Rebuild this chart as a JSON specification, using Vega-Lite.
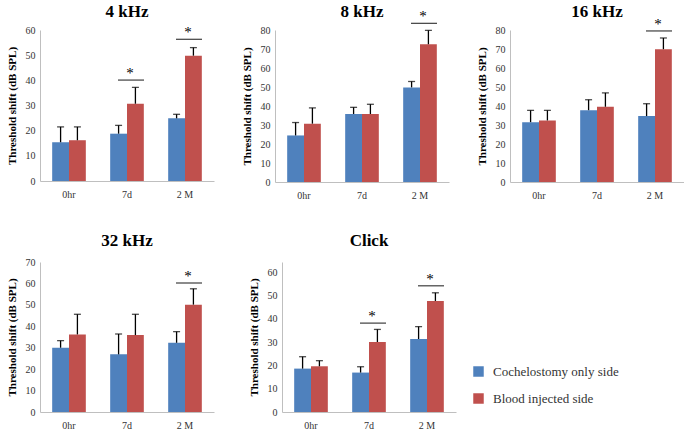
{
  "$schema": "https://vega.github.io/schema/vega-lite/v6.json",
  "padding": {"left": 5, "top": 2, "right": 0, "bottom": 0},
  "background": "white",
  "datasets": {
    "bars": [
      {"p": "4 kHz", "t": "0hr", "s": "Cochelostomy only side", "v": 15.4, "e": 21.5},
      {"p": "4 kHz", "t": "0hr", "s": "Blood injected side", "v": 16.2, "e": 21.5},
      {"p": "4 kHz", "t": "7d", "s": "Cochelostomy only side", "v": 18.8, "e": 22.1},
      {"p": "4 kHz", "t": "7d", "s": "Blood injected side", "v": 30.7, "e": 37.2},
      {"p": "4 kHz", "t": "2 M", "s": "Cochelostomy only side", "v": 24.9, "e": 26.5},
      {"p": "4 kHz", "t": "2 M", "s": "Blood injected side", "v": 49.8, "e": 53.0},
      {"p": "8 kHz", "t": "0hr", "s": "Cochelostomy only side", "v": 24.5, "e": 31.3},
      {"p": "8 kHz", "t": "0hr", "s": "Blood injected side", "v": 30.7, "e": 39.0},
      {"p": "8 kHz", "t": "7d", "s": "Cochelostomy only side", "v": 35.8, "e": 39.3},
      {"p": "8 kHz", "t": "7d", "s": "Blood injected side", "v": 35.8, "e": 40.9},
      {"p": "8 kHz", "t": "2 M", "s": "Cochelostomy only side", "v": 49.8, "e": 52.9},
      {"p": "8 kHz", "t": "2 M", "s": "Blood injected side", "v": 72.5, "e": 79.8},
      {"p": "16 kHz", "t": "0hr", "s": "Cochelostomy only side", "v": 31.5, "e": 37.7},
      {"p": "16 kHz", "t": "0hr", "s": "Blood injected side", "v": 32.4, "e": 37.7},
      {"p": "16 kHz", "t": "7d", "s": "Cochelostomy only side", "v": 37.8, "e": 43.3},
      {"p": "16 kHz", "t": "7d", "s": "Blood injected side", "v": 39.6, "e": 46.9},
      {"p": "16 kHz", "t": "2 M", "s": "Cochelostomy only side", "v": 34.7, "e": 41.2},
      {"p": "16 kHz", "t": "2 M", "s": "Blood injected side", "v": 69.9, "e": 75.8},
      {"p": "32 kHz", "t": "0hr", "s": "Cochelostomy only side", "v": 30.0, "e": 33.3},
      {"p": "32 kHz", "t": "0hr", "s": "Blood injected side", "v": 36.2, "e": 45.6},
      {"p": "32 kHz", "t": "7d", "s": "Cochelostomy only side", "v": 26.9, "e": 36.4},
      {"p": "32 kHz", "t": "7d", "s": "Blood injected side", "v": 35.9, "e": 45.6},
      {"p": "32 kHz", "t": "2 M", "s": "Cochelostomy only side", "v": 32.3, "e": 37.5},
      {"p": "32 kHz", "t": "2 M", "s": "Blood injected side", "v": 50.1, "e": 57.5},
      {"p": "Click", "t": "0hr", "s": "Cochelostomy only side", "v": 18.6, "e": 23.7},
      {"p": "Click", "t": "0hr", "s": "Blood injected side", "v": 19.6, "e": 22.0},
      {"p": "Click", "t": "7d", "s": "Cochelostomy only side", "v": 16.9, "e": 19.4},
      {"p": "Click", "t": "7d", "s": "Blood injected side", "v": 30.0, "e": 35.4},
      {"p": "Click", "t": "2 M", "s": "Cochelostomy only side", "v": 31.3, "e": 36.6},
      {"p": "Click", "t": "2 M", "s": "Blood injected side", "v": 47.6, "e": 51.1}
    ],
    "sig": [
      {"p": "4 kHz", "t": "7d", "y": 40.1},
      {"p": "4 kHz", "t": "2 M", "y": 56.3},
      {"p": "8 kHz", "t": "2 M", "y": 83.5},
      {"p": "16 kHz", "t": "2 M", "y": 79.5},
      {"p": "32 kHz", "t": "2 M", "y": 60.2},
      {"p": "Click", "t": "7d", "y": 38.1},
      {"p": "Click", "t": "2 M", "y": 54.1}
    ]
  },
  "config": {
    "view": {"stroke": null},
    "font": "Liberation Serif, Times New Roman, serif",
    "title": {"font": "Liberation Serif, Times New Roman, serif", "fontSize": 17, "fontWeight": "bold", "color": "black", "frame": "group", "anchor": "middle"},
    "axis": {"labelFont": "Liberation Serif, Times New Roman, serif", "labelFontSize": 10, "labelColor": "#333333", "titleFont": "Liberation Serif, Times New Roman, serif", "titleFontSize": 11, "titleFontWeight": "bold", "titleColor": "black", "domainColor": "#bfbfbf", "ticks": false, "grid": false, "labelPadding": 5, "labelOverlap": false},
    "axisX": {"labelAngle": 0, "labelPadding": 8},
    "axisY": {"titlePadding": 8},
    "text": {"font": "Liberation Serif, Times New Roman, serif", "fill": "black", "color": "black"},
    "legend": {"orient": "none", "legendX": 432, "legendY": 335, "title": null, "labelFont": "Liberation Serif, Times New Roman, serif", "labelFontSize": 13, "labelColor": "#333333", "symbolType": "square", "symbolSize": 110, "symbolStrokeWidth": 0, "rowPadding": 13, "labelOffset": 8},
    "bar": {"stroke": null}
  },
  "resolve": {"scale": {"y": "independent"}},
  "spacing": 32,
  "vconcat": [
    {
      "spacing": 27,
      "hconcat": [
        {
          "title": {"text": "4 kHz", "offset": 4}, "width": 174, "height": 151,
          "encoding": {"x": {"field": "t", "type": "nominal", "sort": ["0hr", "7d", "2 M"], "scale": {"paddingInner": 0.42, "paddingOuter": 0.21}, "axis": {"title": null}}},
          "layer": [
            {"data": {"name": "bars"}, "transform": [{"filter": "datum.p === '4 kHz'"}], "mark": {"type": "bar"},
             "encoding": {"xOffset": {"field": "s", "type": "nominal", "sort": ["Cochelostomy only side", "Blood injected side"]},
                          "y": {"field": "v", "type": "quantitative", "scale": {"domain": [0, 60]}, "axis": {"values": [0, 10, 20, 30, 40, 50, 60], "labelOverlap": false, "title": "Threshold shift (dB SPL)"}},
                          "color": {"field": "s", "type": "nominal", "sort": ["Cochelostomy only side", "Blood injected side"], "scale": {"range": ["#4F81BD", "#C0504D"]}}}},
            {"data": {"name": "bars"}, "transform": [{"filter": "datum.p === '4 kHz'"}], "mark": {"type": "rule", "color": "black", "strokeWidth": 1.3},
             "encoding": {"xOffset": {"field": "s", "type": "nominal", "sort": ["Cochelostomy only side", "Blood injected side"]}, "y": {"field": "v", "type": "quantitative", "axis": {"values": [0, 10, 20, 30, 40, 50, 60], "labelOverlap": false, "title": "Threshold shift (dB SPL)"}}, "y2": {"field": "e"}}},
            {"data": {"name": "bars"}, "transform": [{"filter": "datum.p === '4 kHz'"}], "mark": {"type": "tick", "color": "black", "size": 7, "thickness": 1.3, "xOffset": 2},
             "encoding": {"xOffset": {"field": "s", "type": "nominal", "sort": ["Cochelostomy only side", "Blood injected side"]}, "y": {"field": "e", "type": "quantitative", "axis": {"values": [0, 10, 20, 30, 40, 50, 60], "labelOverlap": false, "title": "Threshold shift (dB SPL)"}}}},
            {"data": {"name": "sig"}, "transform": [{"filter": "datum.p === '4 kHz'"}], "mark": {"type": "tick", "color": "black", "size": 26, "thickness": 1.3, "xOffset": 4},
             "encoding": {"y": {"field": "y", "type": "quantitative", "axis": {"values": [0, 10, 20, 30, 40, 50, 60], "labelOverlap": false, "title": "Threshold shift (dB SPL)"}}}},
            {"data": {"name": "sig"}, "transform": [{"filter": "datum.p === '4 kHz'"}], "mark": {"type": "text", "text": "*", "fontSize": 15, "dy": 1, "dx": 3, "baseline": "bottom", "fill": "black"},
             "encoding": {"y": {"field": "y", "type": "quantitative", "axis": {"values": [0, 10, 20, 30, 40, 50, 60], "labelOverlap": false, "title": "Threshold shift (dB SPL)"}}}}
          ]
        },
        {
          "title": {"text": "8 kHz", "offset": -12}, "width": 174, "height": 152,
          "encoding": {"x": {"field": "t", "type": "nominal", "sort": ["0hr", "7d", "2 M"], "scale": {"paddingInner": 0.42, "paddingOuter": 0.21}, "axis": {"title": null}}},
          "layer": [
            {"data": {"name": "bars"}, "transform": [{"filter": "datum.p === '8 kHz'"}], "mark": {"type": "bar"},
             "encoding": {"xOffset": {"field": "s", "type": "nominal", "sort": ["Cochelostomy only side", "Blood injected side"]},
                          "y": {"field": "v", "type": "quantitative", "scale": {"domain": [0, 80]}, "axis": {"values": [0, 10, 20, 30, 40, 50, 60, 70, 80], "labelOverlap": false, "title": "Threshold shift (dB SPL)"}},
                          "color": {"field": "s", "type": "nominal", "sort": ["Cochelostomy only side", "Blood injected side"], "scale": {"range": ["#4F81BD", "#C0504D"]}}}},
            {"data": {"name": "bars"}, "transform": [{"filter": "datum.p === '8 kHz'"}], "mark": {"type": "rule", "color": "black", "strokeWidth": 1.3},
             "encoding": {"xOffset": {"field": "s", "type": "nominal", "sort": ["Cochelostomy only side", "Blood injected side"]}, "y": {"field": "v", "type": "quantitative", "axis": {"values": [0, 10, 20, 30, 40, 50, 60, 70, 80], "labelOverlap": false, "title": "Threshold shift (dB SPL)"}}, "y2": {"field": "e"}}},
            {"data": {"name": "bars"}, "transform": [{"filter": "datum.p === '8 kHz'"}], "mark": {"type": "tick", "color": "black", "size": 7, "thickness": 1.3, "xOffset": 2},
             "encoding": {"xOffset": {"field": "s", "type": "nominal", "sort": ["Cochelostomy only side", "Blood injected side"]}, "y": {"field": "e", "type": "quantitative", "axis": {"values": [0, 10, 20, 30, 40, 50, 60, 70, 80], "labelOverlap": false, "title": "Threshold shift (dB SPL)"}}}},
            {"data": {"name": "sig"}, "transform": [{"filter": "datum.p === '8 kHz'"}], "mark": {"type": "tick", "color": "black", "size": 26, "thickness": 1.3, "xOffset": 4},
             "encoding": {"y": {"field": "y", "type": "quantitative", "axis": {"values": [0, 10, 20, 30, 40, 50, 60, 70, 80], "labelOverlap": false, "title": "Threshold shift (dB SPL)"}}}},
            {"data": {"name": "sig"}, "transform": [{"filter": "datum.p === '8 kHz'"}], "mark": {"type": "text", "text": "*", "fontSize": 15, "dy": 1, "dx": 3, "baseline": "bottom", "fill": "black"},
             "encoding": {"y": {"field": "y", "type": "quantitative", "axis": {"values": [0, 10, 20, 30, 40, 50, 60, 70, 80], "labelOverlap": false, "title": "Threshold shift (dB SPL)"}}}}
          ]
        },
        {
          "title": {"text": "16 kHz", "offset": -4}, "width": 174, "height": 152,
          "encoding": {"x": {"field": "t", "type": "nominal", "sort": ["0hr", "7d", "2 M"], "scale": {"paddingInner": 0.42, "paddingOuter": 0.21}, "axis": {"title": null}}},
          "layer": [
            {"data": {"name": "bars"}, "transform": [{"filter": "datum.p === '16 kHz'"}], "mark": {"type": "bar"},
             "encoding": {"xOffset": {"field": "s", "type": "nominal", "sort": ["Cochelostomy only side", "Blood injected side"]},
                          "y": {"field": "v", "type": "quantitative", "scale": {"domain": [0, 80]}, "axis": {"values": [0, 10, 20, 30, 40, 50, 60, 70, 80], "labelOverlap": false, "title": "Threshold shift (dB SPL)"}},
                          "color": {"field": "s", "type": "nominal", "sort": ["Cochelostomy only side", "Blood injected side"], "scale": {"range": ["#4F81BD", "#C0504D"]}}}},
            {"data": {"name": "bars"}, "transform": [{"filter": "datum.p === '16 kHz'"}], "mark": {"type": "rule", "color": "black", "strokeWidth": 1.3},
             "encoding": {"xOffset": {"field": "s", "type": "nominal", "sort": ["Cochelostomy only side", "Blood injected side"]}, "y": {"field": "v", "type": "quantitative", "axis": {"values": [0, 10, 20, 30, 40, 50, 60, 70, 80], "labelOverlap": false, "title": "Threshold shift (dB SPL)"}}, "y2": {"field": "e"}}},
            {"data": {"name": "bars"}, "transform": [{"filter": "datum.p === '16 kHz'"}], "mark": {"type": "tick", "color": "black", "size": 7, "thickness": 1.3, "xOffset": 2},
             "encoding": {"xOffset": {"field": "s", "type": "nominal", "sort": ["Cochelostomy only side", "Blood injected side"]}, "y": {"field": "e", "type": "quantitative", "axis": {"values": [0, 10, 20, 30, 40, 50, 60, 70, 80], "labelOverlap": false, "title": "Threshold shift (dB SPL)"}}}},
            {"data": {"name": "sig"}, "transform": [{"filter": "datum.p === '16 kHz'"}], "mark": {"type": "tick", "color": "black", "size": 26, "thickness": 1.3, "xOffset": 4},
             "encoding": {"y": {"field": "y", "type": "quantitative", "axis": {"values": [0, 10, 20, 30, 40, 50, 60, 70, 80], "labelOverlap": false, "title": "Threshold shift (dB SPL)"}}}},
            {"data": {"name": "sig"}, "transform": [{"filter": "datum.p === '16 kHz'"}], "mark": {"type": "text", "text": "*", "fontSize": 15, "dy": 1, "dx": 3, "baseline": "bottom", "fill": "black"},
             "encoding": {"y": {"field": "y", "type": "quantitative", "axis": {"values": [0, 10, 20, 30, 40, 50, 60, 70, 80], "labelOverlap": false, "title": "Threshold shift (dB SPL)"}}}}
          ]
        }
      ]
    },
    {
      "spacing": 33,
      "hconcat": [
        {
          "title": {"text": "32 kHz", "offset": 7}, "width": 174, "height": 150,
          "encoding": {"x": {"field": "t", "type": "nominal", "sort": ["0hr", "7d", "2 M"], "scale": {"paddingInner": 0.42, "paddingOuter": 0.21}, "axis": {"title": null}}},
          "layer": [
            {"data": {"name": "bars"}, "transform": [{"filter": "datum.p === '32 kHz'"}], "mark": {"type": "bar"},
             "encoding": {"xOffset": {"field": "s", "type": "nominal", "sort": ["Cochelostomy only side", "Blood injected side"]},
                          "y": {"field": "v", "type": "quantitative", "scale": {"domain": [0, 70]}, "axis": {"values": [0, 10, 20, 30, 40, 50, 60, 70], "labelOverlap": false, "title": "Threshold shift (dB SPL)"}},
                          "color": {"field": "s", "type": "nominal", "sort": ["Cochelostomy only side", "Blood injected side"], "scale": {"range": ["#4F81BD", "#C0504D"]}}}},
            {"data": {"name": "bars"}, "transform": [{"filter": "datum.p === '32 kHz'"}], "mark": {"type": "rule", "color": "black", "strokeWidth": 1.3},
             "encoding": {"xOffset": {"field": "s", "type": "nominal", "sort": ["Cochelostomy only side", "Blood injected side"]}, "y": {"field": "v", "type": "quantitative", "axis": {"values": [0, 10, 20, 30, 40, 50, 60, 70], "labelOverlap": false, "title": "Threshold shift (dB SPL)"}}, "y2": {"field": "e"}}},
            {"data": {"name": "bars"}, "transform": [{"filter": "datum.p === '32 kHz'"}], "mark": {"type": "tick", "color": "black", "size": 7, "thickness": 1.3, "xOffset": 2},
             "encoding": {"xOffset": {"field": "s", "type": "nominal", "sort": ["Cochelostomy only side", "Blood injected side"]}, "y": {"field": "e", "type": "quantitative", "axis": {"values": [0, 10, 20, 30, 40, 50, 60, 70], "labelOverlap": false, "title": "Threshold shift (dB SPL)"}}}},
            {"data": {"name": "sig"}, "transform": [{"filter": "datum.p === '32 kHz'"}], "mark": {"type": "tick", "color": "black", "size": 26, "thickness": 1.3, "xOffset": 4},
             "encoding": {"y": {"field": "y", "type": "quantitative", "axis": {"values": [0, 10, 20, 30, 40, 50, 60, 70], "labelOverlap": false, "title": "Threshold shift (dB SPL)"}}}},
            {"data": {"name": "sig"}, "transform": [{"filter": "datum.p === '32 kHz'"}], "mark": {"type": "text", "text": "*", "fontSize": 15, "dy": 1, "dx": 3, "baseline": "bottom", "fill": "black"},
             "encoding": {"y": {"field": "y", "type": "quantitative", "axis": {"values": [0, 10, 20, 30, 40, 50, 60, 70], "labelOverlap": false, "title": "Threshold shift (dB SPL)"}}}}
          ]
        },
        {
          "title": {"text": "Click", "offset": 12}, "width": 174, "height": 150,
          "encoding": {"x": {"field": "t", "type": "nominal", "sort": ["0hr", "7d", "2 M"], "scale": {"paddingInner": 0.42, "paddingOuter": 0.21}, "axis": {"title": null}}},
          "layer": [
            {"data": {"name": "bars"}, "transform": [{"filter": "datum.p === 'Click'"}], "mark": {"type": "bar"},
             "encoding": {"xOffset": {"field": "s", "type": "nominal", "sort": ["Cochelostomy only side", "Blood injected side"]},
                          "y": {"field": "v", "type": "quantitative", "scale": {"domain": [0, 64.3], "nice": false}, "axis": {"values": [0, 10, 20, 30, 40, 50, 60], "labelOverlap": false, "title": "Threshold shift (dB SPL)"}},
                          "color": {"field": "s", "type": "nominal", "sort": ["Cochelostomy only side", "Blood injected side"], "scale": {"range": ["#4F81BD", "#C0504D"]}}}},
            {"data": {"name": "bars"}, "transform": [{"filter": "datum.p === 'Click'"}], "mark": {"type": "rule", "color": "black", "strokeWidth": 1.3},
             "encoding": {"xOffset": {"field": "s", "type": "nominal", "sort": ["Cochelostomy only side", "Blood injected side"]}, "y": {"field": "v", "type": "quantitative", "axis": {"values": [0, 10, 20, 30, 40, 50, 60], "labelOverlap": false, "title": "Threshold shift (dB SPL)"}}, "y2": {"field": "e"}}},
            {"data": {"name": "bars"}, "transform": [{"filter": "datum.p === 'Click'"}], "mark": {"type": "tick", "color": "black", "size": 7, "thickness": 1.3, "xOffset": 2},
             "encoding": {"xOffset": {"field": "s", "type": "nominal", "sort": ["Cochelostomy only side", "Blood injected side"]}, "y": {"field": "e", "type": "quantitative", "axis": {"values": [0, 10, 20, 30, 40, 50, 60], "labelOverlap": false, "title": "Threshold shift (dB SPL)"}}}},
            {"data": {"name": "sig"}, "transform": [{"filter": "datum.p === 'Click'"}], "mark": {"type": "tick", "color": "black", "size": 26, "thickness": 1.3, "xOffset": 4},
             "encoding": {"y": {"field": "y", "type": "quantitative", "axis": {"values": [0, 10, 20, 30, 40, 50, 60], "labelOverlap": false, "title": "Threshold shift (dB SPL)"}}}},
            {"data": {"name": "sig"}, "transform": [{"filter": "datum.p === 'Click'"}], "mark": {"type": "text", "text": "*", "fontSize": 15, "dy": 1, "dx": 3, "baseline": "bottom", "fill": "black"},
             "encoding": {"y": {"field": "y", "type": "quantitative", "axis": {"values": [0, 10, 20, 30, 40, 50, 60], "labelOverlap": false, "title": "Threshold shift (dB SPL)"}}}}
          ]
        }
      ]
    }
  ]
}
